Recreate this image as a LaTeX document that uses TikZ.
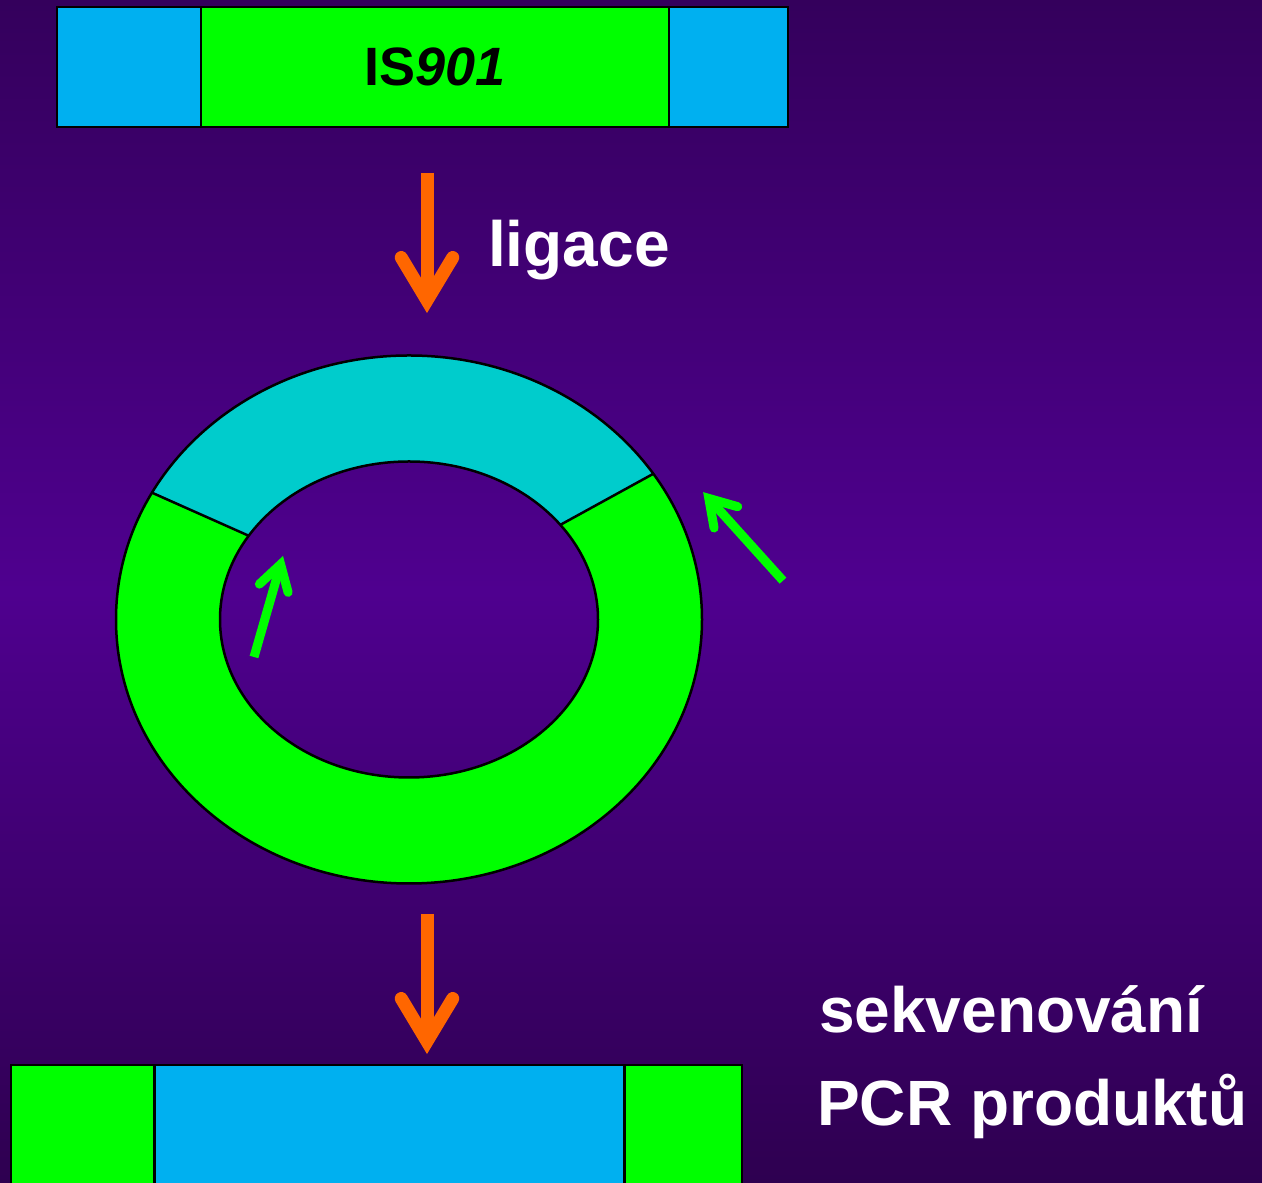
\documentclass[tikz,border=0pt]{standalone}
\usepackage{fontspec}
\setmainfont{Liberation Sans}
\usetikzlibrary{calc}
\definecolor{bgtop}{RGB}{52,0,92}
\definecolor{bgmid}{RGB}{79,0,143}
\definecolor{bgbot}{RGB}{46,0,80}
\definecolor{segblue}{RGB}{0,176,240}
\definecolor{seggreen}{RGB}{0,255,0}
\definecolor{segcyan}{RGB}{0,204,204}
\definecolor{arroworange}{RGB}{255,102,0}
\begin{document}
\begin{tikzpicture}[x=1pt,y=1pt,
  seg/.style={draw=black, line width=2.5pt, minimum height=120pt, inner sep=0pt, outer sep=0pt},
  wtext/.style={text=white, inner sep=0pt, anchor=base west, font=\fontsize{64}{70}\selectfont\bfseries},
  oshaft/.style={draw=arroworange, line width=13pt, line cap=butt},
  ohead/.style={draw=arroworange, line width=13pt, line cap=round, line join=miter},
  gshaft/.style={draw=seggreen, line width=9pt, line cap=butt},
  ghead/.style={draw=seggreen, line width=9pt, line cap=round, line join=miter},
  ringline/.style={draw=black, line width=2.5pt}]
\shade[top color=bgtop, bottom color=bgbot, middle color=bgmid] (0,0) rectangle (1262,1183);
\useasboundingbox (0,0) rectangle (1262,1183);

% top bar
\node[seg, fill=segblue, minimum width=144pt] (tl) at (129,1116) {};
\node[seg, fill=seggreen, minimum width=468pt] (tc) at (435,1116) {\fontsize{54}{60}\selectfont\bfseries IS\textit{901}};
\node[seg, fill=segblue, minimum width=119pt] (tr) at (728.5,1116) {};

% bottom bar
\node[seg, fill=seggreen, minimum width=143.5pt, minimum height=140pt] (bl) at (82.75,48) {};
\node[seg, fill=segblue, minimum width=470pt, minimum height=140pt] (bc) at (389.5,48) {};
\node[seg, fill=seggreen, minimum width=117.5pt, minimum height=140pt] (br) at (683.25,48) {};

% ring
\coordinate (rc) at (409,563.5);
\fill[seggreen, even odd rule] (rc) ellipse[x radius=293pt, y radius=264pt] (rc) ellipse[x radius=189pt, y radius=158pt];
\coordinate (o1) at ($(rc)+(33.5:293pt and 264pt)$);
\coordinate (o2) at ($(rc)+(151.3:293pt and 264pt)$);
\coordinate (i1) at ($(rc)+(36.8:189pt and 158pt)$);
\coordinate (i2) at ($(rc)+(148:189pt and 158pt)$);
\fill[segcyan] (o1) arc[start angle=33.5, end angle=151.3, x radius=293pt, y radius=264pt] -- (i2) arc[start angle=148, end angle=36.8, x radius=189pt, y radius=158pt] -- cycle;
\draw[ringline] (rc) ellipse[x radius=293pt, y radius=264pt];
\draw[ringline] (rc) ellipse[x radius=189pt, y radius=158pt];
\draw[ringline] (o1) -- (i1);
\draw[ringline] (o2) -- (i2);

% orange arrow 1
\coordinate (a1s) at (427,1010);
\coordinate (a1t) at (427,870);
\coordinate (a1v) at ($(a1t)!12.6pt!(a1s)$);
\draw[oshaft] (a1s) -- (a1v);
\draw[ohead] ($(a1v)!50pt!31:(a1s)$) -- (a1v) -- ($(a1v)!50pt!-31:(a1s)$);

% orange arrow 2
\coordinate (a2s) at (427,269);
\coordinate (a2t) at (427,129);
\coordinate (a2v) at ($(a2t)!12.6pt!(a2s)$);
\draw[oshaft] (a2s) -- (a2v);
\draw[ohead] ($(a2v)!50pt!31:(a2s)$) -- (a2v) -- ($(a2v)!50pt!-31:(a2s)$);

% green arrow inner
\coordinate (g1s) at (254,526);
\coordinate (g1t) at (283,627);
\coordinate (g1v) at ($(g1t)!8.7pt!(g1s)$);
\draw[gshaft] (g1s) -- (g1v);
\draw[ghead] ($(g1v)!29pt!31:(g1s)$) -- (g1v) -- ($(g1v)!29pt!-31:(g1s)$);

% green arrow outer
\coordinate (g2s) at (783,602.3);
\coordinate (g2t) at (703,691);
\coordinate (g2v) at ($(g2t)!8.7pt!(g2s)$);
\draw[gshaft] (g2s) -- (g2v);
\draw[ghead] ($(g2v)!30pt!32:(g2s)$) -- (g2v) -- ($(g2v)!30pt!-32:(g2s)$);

% texts
\node[wtext] (lig) at (488,916) {ligace};
\node[wtext] (sek) at (819,150) {sekvenování};
\node[wtext] (pcr) at (817,57) {PCR produktů};
\end{tikzpicture}
\end{document}
